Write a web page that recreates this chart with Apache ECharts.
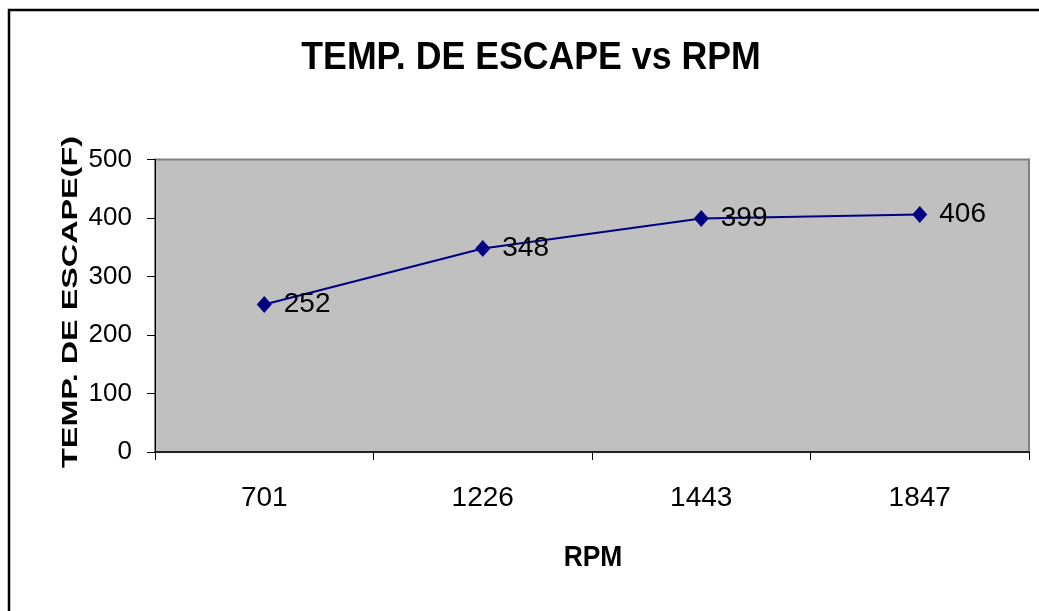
<!DOCTYPE html>
<html>
<head>
<meta charset="utf-8">
<script src="https://cdn.jsdelivr.net/npm/echarts@6/dist/echarts.min.js"></script>
<style>
  html, body { margin: 0; padding: 0; background: #fff; }
  #chart { width: 1039px; height: 611px; }
</style>
</head>
<body>
<div id="chart"></div>
<script>
// Exhaust temperature (°F) against engine speed
const rpmCategories = ['701', '1226', '1443', '1847'];
const exhaustTemp = [252, 348, 399, 406];
const yTicks = { min: 0, max: 500, step: 100 };

const chartTitle = 'TEMP. DE ESCAPE vs RPM';
const yAxisTitle = 'TEMP. DE ESCAPE(F)';
const xAxisTitle = 'RPM';

const FONT = 'Arial, "Liberation Sans", sans-serif';

const chart = echarts.init(document.getElementById('chart'), null, { renderer: 'canvas' });

chart.setOption({
  animation: false,
  backgroundColor: '#ffffff',
  grid: {
    left: 155, top: 159.5, right: 10, bottom: 159,
    show: true,
    backgroundColor: '#c0c0c0',
    borderColor: '#808080',
    borderWidth: 2
  },
  xAxis: {
    type: 'category',
    data: rpmCategories,
    boundaryGap: true,
    axisLine: { show: true, lineStyle: { color: '#000', width: 1.5 } },
    axisTick: { show: true, length: 8, inside: false, lineStyle: { color: '#000', width: 1 } },
    axisLabel: { color: '#000', fontFamily: FONT, fontSize: 28, margin: 32 },
    splitLine: { show: false }
  },
  yAxis: {
    type: 'value',
    min: yTicks.min, max: yTicks.max, interval: yTicks.step,
    axisLine: { show: true, lineStyle: { color: '#000', width: 1 } },
    axisTick: { show: true, length: 8, inside: false, lineStyle: { color: '#000', width: 1 } },
    axisLabel: { color: '#000', fontFamily: FONT, fontSize: 26, margin: 23 },
    splitLine: { show: false }
  },
  series: [{
    type: 'line',
    data: exhaustTemp,
    symbol: 'diamond',
    symbolSize: [15, 17],
    lineStyle: { color: '#000080', width: 2 },
    itemStyle: { color: '#000080' },
    label: {
      show: true,
      position: 'right',
      distance: 12,
      color: '#000',
      fontFamily: FONT,
      fontSize: 28
    }
  }],
  graphic: [
    {
      type: 'rect',
      shape: { x: 9, y: 10, width: 1200, height: 800 },
      style: { fill: 'none', stroke: '#000', lineWidth: 2.5 },
      silent: true
    },
    {
      type: 'text',
      x: 531, y: 58,
      scaleX: 0.915,
      style: {
        text: chartTitle,
        fill: '#000',
        font: 'bold 39px ' + FONT,
        textAlign: 'center',
        textVerticalAlign: 'middle'
      }
    },
    {
      type: 'text',
      x: 593, y: 558,
      scaleX: 0.88,
      style: {
        text: xAxisTitle,
        fill: '#000',
        font: 'bold 30px ' + FONT,
        textAlign: 'center',
        textVerticalAlign: 'middle'
      }
    },
    {
      type: 'text',
      x: 71, y: 302,
      rotation: Math.PI / 2,
      scaleX: 1.47,
      style: {
        text: yAxisTitle,
        fill: '#000',
        font: 'bold 22px ' + FONT,
        textAlign: 'center',
        textVerticalAlign: 'middle'
      }
    }
  ]
});
</script>
</body>
</html>
